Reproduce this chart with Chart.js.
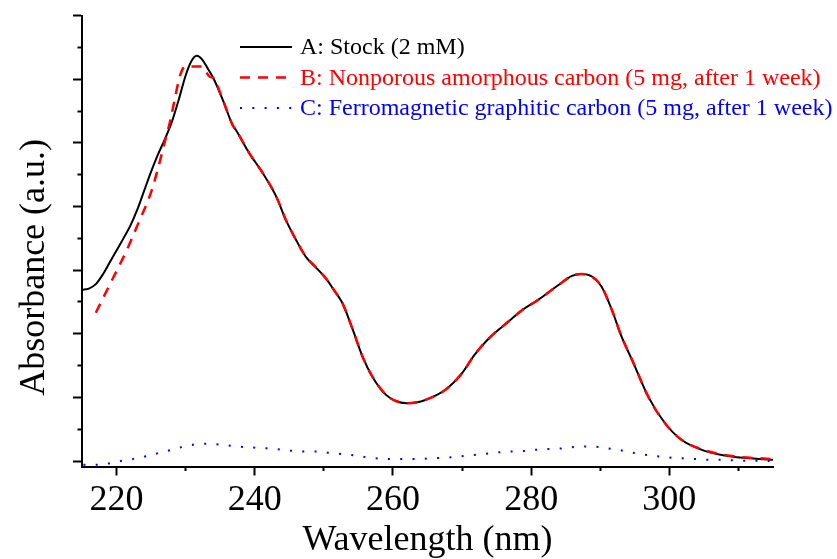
<!DOCTYPE html>
<html><head><meta charset="utf-8">
<script src="https://cdn.jsdelivr.net/npm/chart.js@4.4.1/dist/chart.umd.min.js"></script>
<style>html,body{margin:0;padding:0;background:#fff;}</style>
</head><body>
<canvas id="c" width="837" height="559"></canvas>
<script>
// ---- data ----
const seriesLabels = [
  'A: Stock (2 mM)',
  'B: Nonporous amorphous carbon (5 mg, after 1 week)',
  'C: Ferromagnetic graphitic carbon (5 mg, after 1 week)'
];
const wlA = [215,216,217,218,219,220,221,222,223,224,225,226,227,228,229,230,230.8,231.6,232.4,233.2,234.0,235.4,236.8,237.3,239.2,241.2,243.1,244.5,246.0,247.4,248.7,250.3,251.5,252.7,254.2,255.6,257.0,259.0,260.5,261.9,263.3,264.7,267.6,270.0,271.8,273.9,276.8,278.8,281.1,284.0,285.9,287.3,288.8,290.2,291.7,293.1,294.6,297.0,299.4,301.8,305.1,309.0,315.0];
const absA = [2.69,2.71,2.78,2.93,3.12,3.31,3.50,3.70,3.95,4.25,4.55,4.82,5.06,5.33,5.68,6.06,6.28,6.37,6.31,6.17,6.02,5.67,5.28,5.20,4.84,4.52,4.16,3.79,3.47,3.21,3.06,2.87,2.68,2.48,2.06,1.64,1.33,1.04,0.94,0.91,0.92,0.96,1.12,1.38,1.67,1.93,2.20,2.38,2.54,2.77,2.91,2.94,2.90,2.74,2.37,1.95,1.59,1.00,0.59,0.33,0.16,0.07,0.02];
const wlB = [217.0,219.0,221.5,223.0,225.1,227.5,229.9,232.3,233.5,234.0,235.4,236.8,237.3,239.2,241.2,243.1,244.5,246.0,247.4,248.7,250.3,251.5,252.7,254.2,255.6,257.0,259.0,260.5,261.9,263.3,264.7,267.6,270.0,271.8,273.9,276.8,278.8,281.1,284.0,285.9,287.3,288.8,290.2,291.7,293.1,294.6,297.0,299.4,301.8,305.1,309.0,315.0];
const absB = [2.33,2.77,3.32,3.70,4.26,5.23,6.20,6.20,6.04,6.02,5.67,5.28,5.20,4.84,4.52,4.16,3.79,3.47,3.21,3.06,2.87,2.68,2.48,2.06,1.64,1.33,1.04,0.94,0.91,0.92,0.96,1.12,1.38,1.67,1.93,2.20,2.38,2.54,2.77,2.91,2.94,2.90,2.74,2.37,1.95,1.59,1.00,0.59,0.33,0.17,0.08,0.03];
const wlC = [215.2,217.0,218.8,220.6,222.3,224.1,225.9,227.7,229.5,231.3,233.0,234.8,236.6,238.4,240.1,241.9,243.7,245.4,247.2,249.0,250.8,252.6,254.3,256.1,257.9,259.6,261.4,263.2,265.0,266.8,268.5,270.3,272.1,273.9,275.6,277.4,279.2,281.0,282.8,284.6,286.3,288.1,289.9,291.6,293.4,295.2,297.0,298.7,300.5,302.3,304.1,305.9,307.6,309.4,311.2,313.0,314.5];
const absC = [-0.06,-0.06,-0.04,0.00,0.03,0.07,0.12,0.17,0.22,0.26,0.27,0.26,0.24,0.22,0.21,0.20,0.18,0.16,0.15,0.15,0.13,0.11,0.09,0.06,0.04,0.03,0.03,0.03,0.04,0.05,0.06,0.08,0.10,0.12,0.14,0.15,0.16,0.18,0.19,0.20,0.22,0.23,0.22,0.19,0.16,0.12,0.09,0.07,0.05,0.04,0.03,0.02,0.02,0.01,0.005,0.005,0.0];
const xMajorTicks = [220,240,260,280,300];
const xMinorTicks = [230,250,270,290,310];
const yMajorTicks = [0,1,2,3,4,5,6,7];
const yMinorTicks = [0.5,1.5,2.5,3.5,4.5,5.5,6.5];
const xTitle = 'Wavelength (nm)';
const yTitle = 'Absorbance (a.u.)';

// ---- chart ----
const FAM = "'Liberation Serif', 'Times New Roman', serif";
const pts = (xs, ys) => xs.map((x, i) => ({x: x, y: ys[i]}));

const annot = {
  id: 'annot',
  afterDraw(chart) {
    const ctx = chart.ctx;
    ctx.save();
    // y-axis title
    ctx.fillStyle = '#000';
    ctx.font = '36px ' + FAM;
    ctx.textAlign = 'center';
    ctx.textBaseline = 'alphabetic';
    ctx.translate(44.3, 267.4);
    ctx.rotate(-Math.PI / 2);
    ctx.fillText(yTitle, 0, 0);
    ctx.restore();
    // legend
    ctx.save();
    ctx.font = '24px ' + FAM;
    ctx.textAlign = 'left';
    ctx.textBaseline = 'middle';
    chart.data.datasets.forEach((ds, i) => {
      const y = 47 + i * 30.5;
      ctx.strokeStyle = ds.borderColor;
      ctx.lineWidth = ds.borderWidth;
      ctx.setLineDash(ds.borderDash || []);
      ctx.beginPath();
      ctx.moveTo(240, y);
      ctx.lineTo(292, y);
      ctx.stroke();
      ctx.fillStyle = ds.borderColor;
      ctx.fillText(ds.label, 300, y + 1);
    });
    ctx.restore();
  }
};

const tickFix = arr => s => { s.ticks = arr.map(v => ({value: v})); };

new Chart(document.getElementById('c'), {
  type: 'line',
  data: {
    datasets: [
      {label: seriesLabels[0], data: pts(wlA, absA), borderColor: '#000000', borderWidth: 2, order: 2},
      {label: seriesLabels[1], data: pts(wlB, absB), borderColor: '#ff0000', borderWidth: 2.5, borderDash: [10, 8], order: 1},
      {label: seriesLabels[2], data: pts(wlC, absC), borderColor: '#0000ff', borderWidth: 2, borderDash: [2, 10.3], order: 0}
    ]
  },
  options: {
    responsive: false,
    animation: false,
    layout: {padding: {left: 0, top: 15.7, right: 64, bottom: 0}},
    elements: {point: {radius: 0}, line: {cubicInterpolationMode: 'monotone', fill: false}},
    plugins: {legend: {display: false}, tooltip: {enabled: false}},
    scales: {
      x: {
        type: 'linear', position: 'bottom', min: 215, max: 315, weight: 1,
        afterBuildTicks: tickFix(xMajorTicks),
        afterFit: s => { s.height = 92.5; },
        grid: {drawOnChartArea: false, drawTicks: true, tickLength: 9, tickWidth: 2, tickColor: '#000'},
        border: {display: true, color: '#000', width: 2},
        ticks: {font: {family: FAM, size: 36}, color: '#000', padding: 3, maxRotation: 0, autoSkip: false},
        title: {display: true, text: xTitle, color: '#000', font: {family: FAM, size: 36, lineHeight: 1}, padding: 0}
      },
      xMinor: {
        type: 'linear', position: 'bottom', min: 215, max: 315, weight: 0,
        afterBuildTicks: tickFix(xMinorTicks),
        afterFit: s => { s.height = 0; },
        grid: {drawOnChartArea: false, drawTicks: true, tickLength: 4.5, tickWidth: 2, tickColor: '#000'},
        border: {display: false},
        ticks: {display: false}
      },
      y: {
        type: 'linear', position: 'left', min: -0.086, max: 7, weight: 1,
        afterBuildTicks: tickFix(yMajorTicks),
        afterFit: s => { s.width = 82; },
        grid: {drawOnChartArea: false, drawTicks: true, tickLength: 9, tickWidth: 2, tickColor: '#000'},
        border: {display: true, color: '#000', width: 2},
        ticks: {display: false}
      },
      yMinor: {
        type: 'linear', position: 'left', min: -0.086, max: 7, weight: 0,
        afterBuildTicks: tickFix(yMinorTicks),
        afterFit: s => { s.width = 0; },
        grid: {drawOnChartArea: false, drawTicks: true, tickLength: 4.5, tickWidth: 2, tickColor: '#000'},
        border: {display: false},
        ticks: {display: false}
      }
    }
  },
  plugins: [annot]
});
</script>
</body></html>
